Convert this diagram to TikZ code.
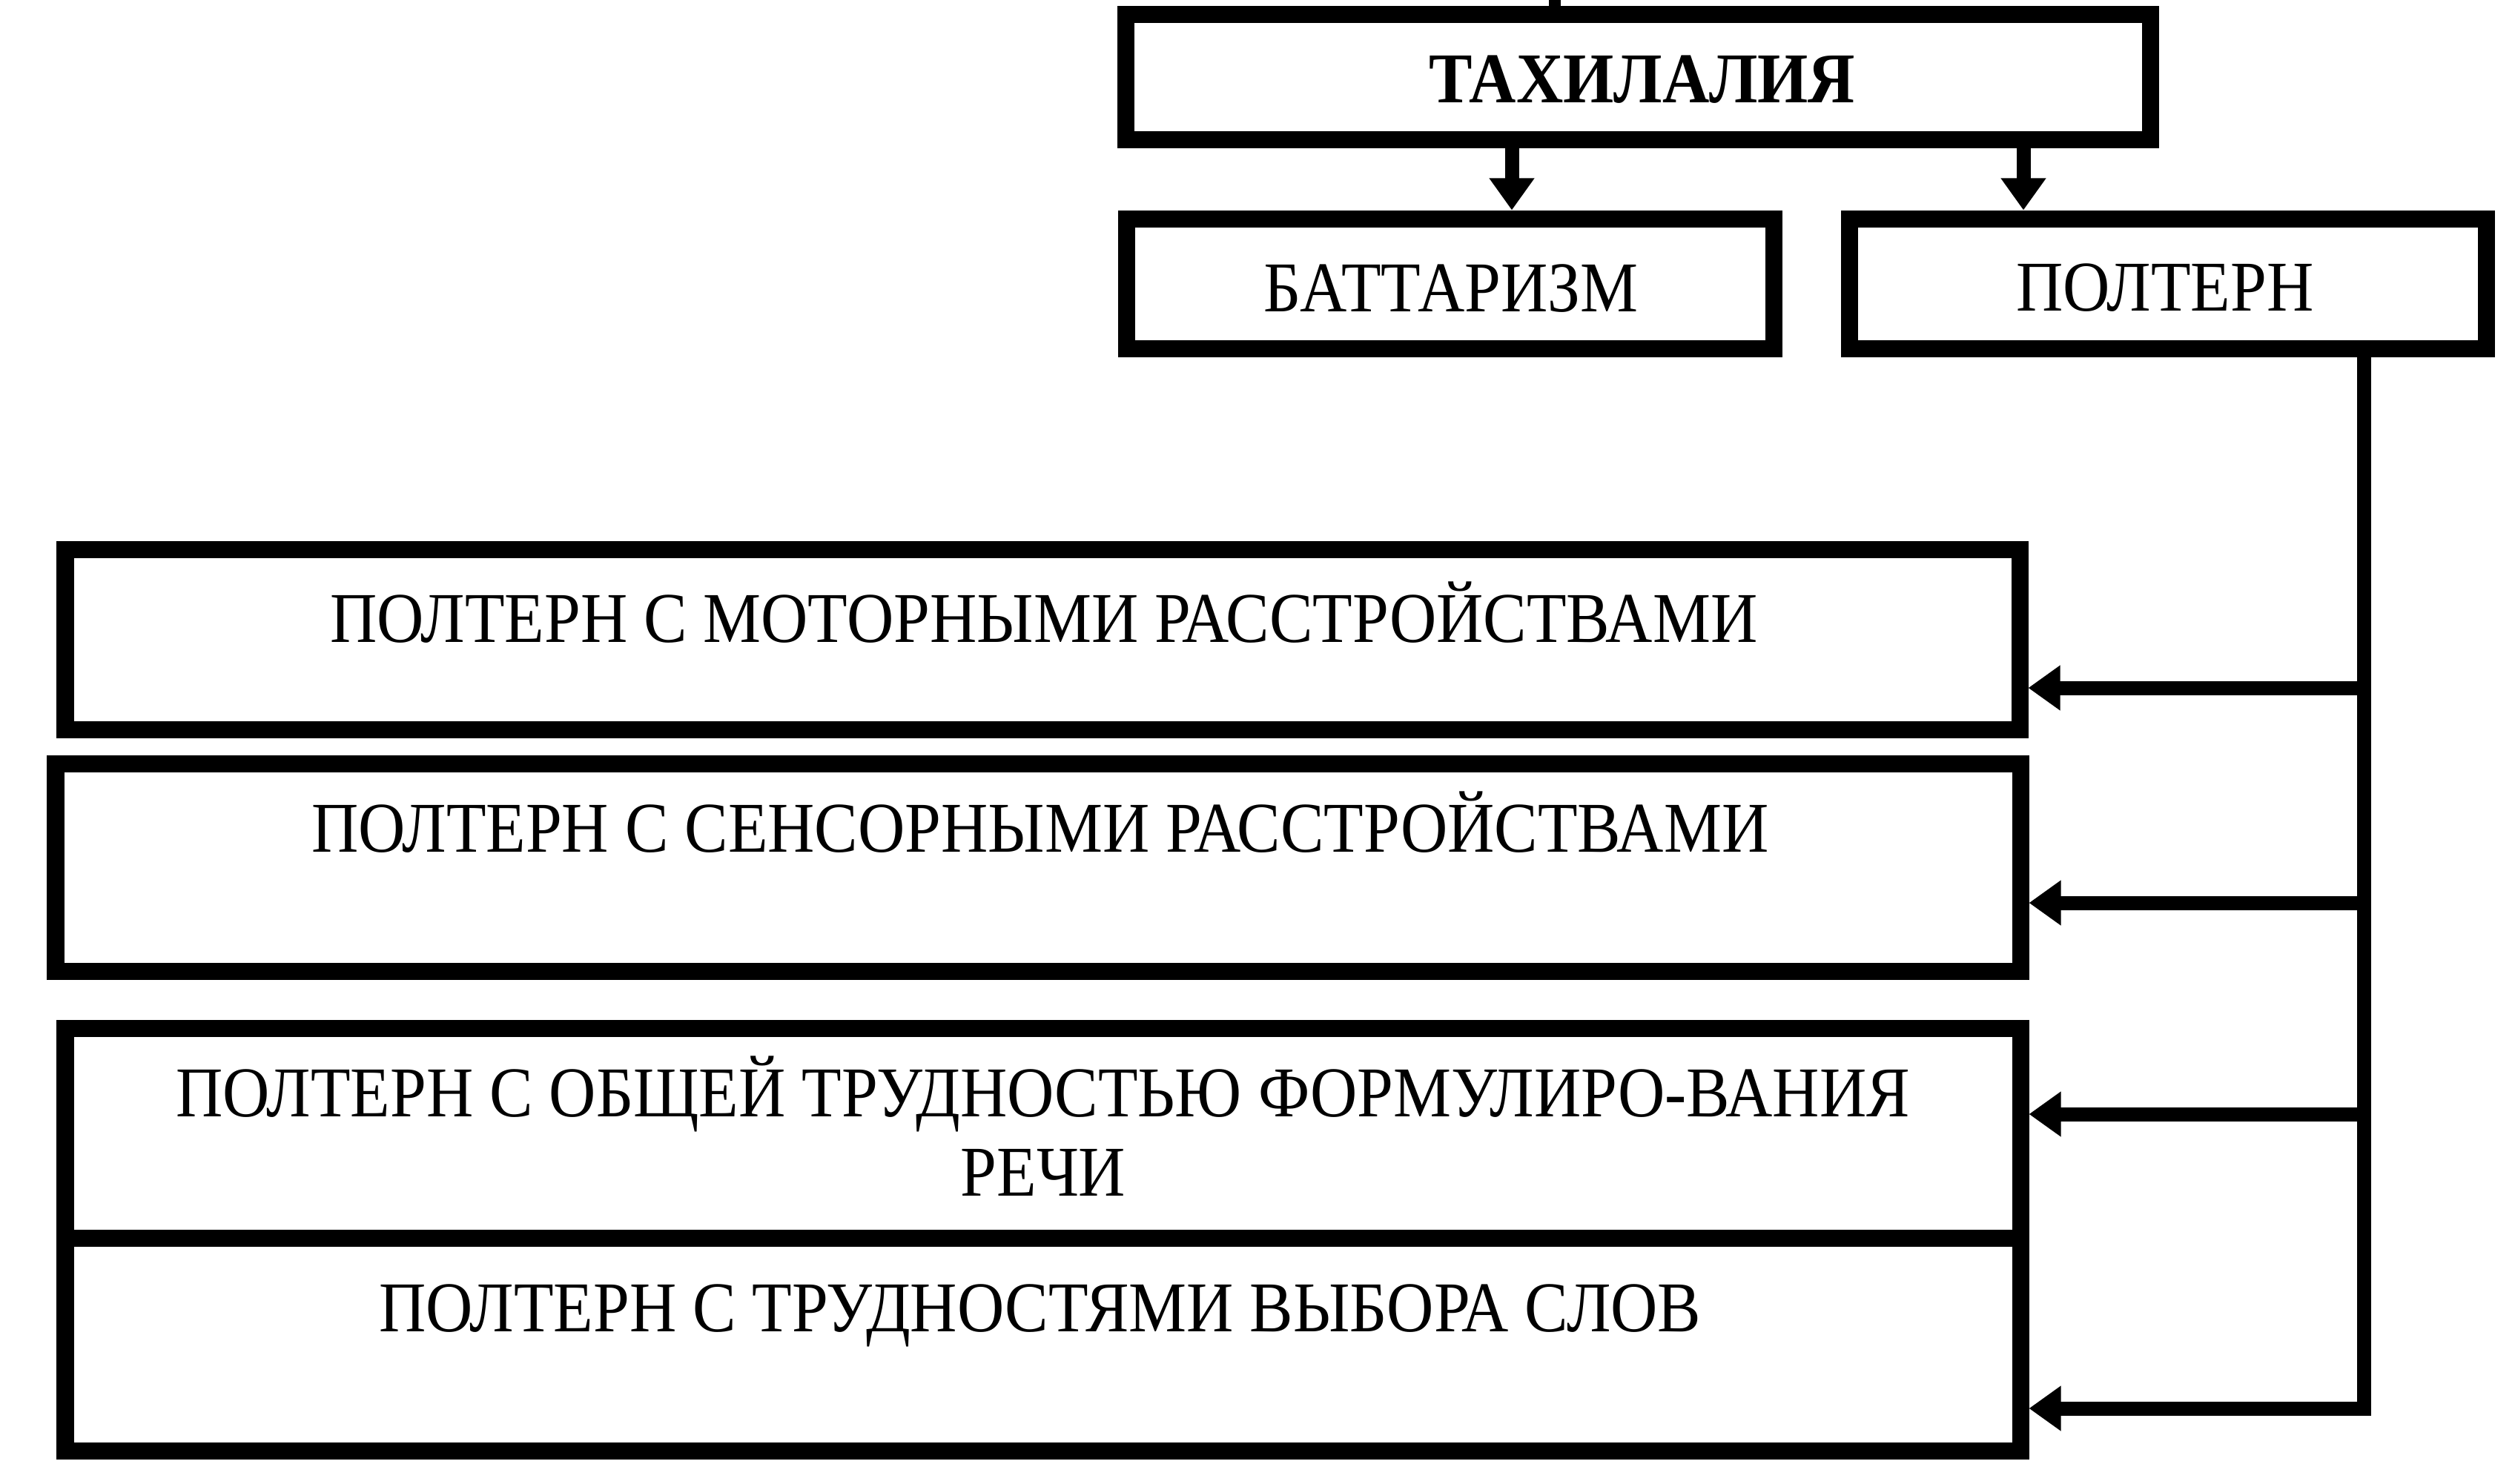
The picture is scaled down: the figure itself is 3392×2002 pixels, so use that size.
\documentclass[tikz,border=0pt]{standalone}
\usepackage{fontspec}
\setmainfont{Liberation Serif}[FakeStretch=0.91]
\usetikzlibrary{arrows.meta,fit}

\begin{document}
\begin{tikzpicture}[x=0.01cm,y=-0.01cm,
    frame/.style={draw,line width=2.3mm,inner sep=0},
    caption/.style={anchor=base,inner sep=0,align=center,font=\boxfontsize},
    link/.style={line width=1.9mm},
    arrow/.style={link,-{Triangle[length=4.3mm,width=5.8mm]}}]
    \providecommand{\boxfontsize}{\fontsize{27.4pt}{30.4pt}\selectfont}
    \pgfmathsetmacro{\trunkx}{3188}
    \useasboundingbox (0,0) rectangle (3392,2002);
    % upper level
    \node[frame,fit={(1518,19) (2900,188)}] (tax) {};
    \node[frame,fit={(1519,295) (2392,470)}] (bat) {};
    \node[frame,fit={(2494,295) (3353,470)}] (pol) {};
    \node[caption,font=\boxfontsize\bfseries] (taxtext) at (2215,138) {ТАХИЛАЛИЯ};
    \node[caption] (battext) at (1957,420) {БАТТАРИЗМ};
    \node[caption] (poltext) at (2920,419) {ПОЛТЕРН};
    % forms of poltern
    \node[frame,fit={(88,741) (2724,984)}] (motor) {};
    \node[frame,fit={(75,1030) (2725,1310)}] (sensor) {};
    \node[frame,fit={(88,1387) (2725,1670)}] (formul) {};
    \node[frame,fit={(88,1670) (2725,1957)}] (words) {};
    \node[caption] (motortext) at (1408,866) {ПОЛТЕРН С МОТОРНЫМИ РАССТРОЙСТВАМИ};
    \node[caption] (sensortext) at (1403,1149) {ПОЛТЕРН С СЕНСОРНЫМИ РАССТРОЙСТВАМИ};
    \node[caption] (formultext) at (1407,1613) {ПОЛТЕРН С ОБЩЕЙ ТРУДНОСТЬЮ ФОРМУЛИРО-ВАНИЯ\\РЕЧИ};
    \node[caption] (wordstext) at (1403,1796) {ПОЛТЕРН С ТРУДНОСТЯМИ ВЫБОРА СЛОВ};
    % connectors
    \coordinate (entry) at (2097,0);
    \coordinate (batx) at (2039,0);
    \coordinate (polx) at (2729,0);
    \draw[link,line width=1.6mm] (entry) -- (entry |- tax.north);
    \draw[arrow] (tax.south -| batx) -- (bat.north -| batx);
    \draw[arrow] (tax.south -| polx) -- (pol.north -| polx);
    \coordinate (j1) at (\trunkx,928);
    \coordinate (j2) at (\trunkx,1218);
    \coordinate (j3) at (\trunkx,1503);
    \coordinate (j4) at (\trunkx,1900);
    \draw[arrow] (pol.south -| j4) -- (j4) -- (j4 -| words.east);
    \foreach \j/\b in {j1/motor,j2/sensor,j3/formul}
        \draw[arrow] (\j) -- (\j -| \b.east);
\end{tikzpicture}
\end{document}
